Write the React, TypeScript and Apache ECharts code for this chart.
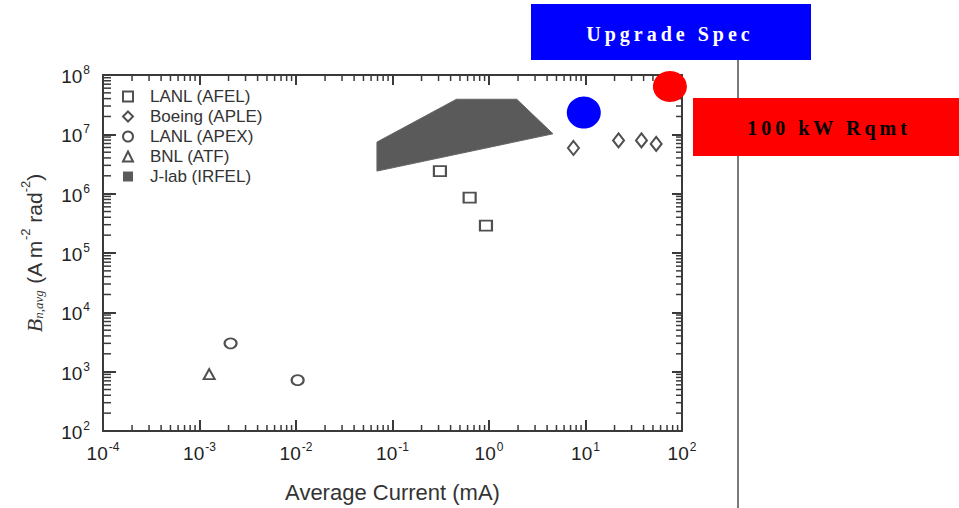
import React, { useEffect, useRef } from "react";
import * as echarts from "echarts";

// ---- axis ranges ----
const X_MIN = 1e-4;
const X_MAX = 1e2;
const Y_MIN = 1e2;
const Y_MAX = 1e8;

// ---- series data [average current (mA), brightness] ----
const seriesNames = ["LANL (AFEL)", "Boeing (APLE)", "LANL (APEX)", "BNL (ATF)", "J-lab (IRFEL)"];
const lanlAfel = [
  [0.31, 2.4e6],
  [0.63, 8.6e5],
  [0.93, 2.9e5],
];
const boeingAple = [
  [7.5, 5.9e6],
  [22, 7.9e6],
  [38, 7.9e6],
  [54, 6.9e6],
];
const lanlApex = [
  [2.1e-3, 3.0e3],
  [1.04e-2, 7.2e2],
];
const bnlAtf = [[1.26e-3, 9.1e2]];
const jlabIrfelRegion = [
  [0.069, 7.4e6],
  [0.46, 3.9e7],
  [1.94, 3.9e7],
  [4.6, 1.02e7],
  [0.069, 2.4e6],
];
const upgradeSpec = [[9.6, 2.33e7]];
const rqmt100kW = [[75, 6.4e7]];

// ---- annotation texts ----
const upgradeLabel = "Upgrade Spec";
const rqmtLabel = "100 kW Rqmt";
const xAxisTitle = "Average Current (mA)";

// minor log ticks (2..9 per decade)
const minorMultipliers = [2, 3, 4, 5, 6, 7, 8, 9];
const xDecades = [-4, -3, -2, -1, 0, 1];
const yDecades = [2, 3, 4, 5, 6, 7];
const xMinor = xDecades.flatMap((d) => minorMultipliers.map((m) => m * Math.pow(10, d)));
const yMinor = yDecades.flatMap((d) => minorMultipliers.map((m) => m * Math.pow(10, d)));

const AX = "#3a3a3a";
const MK = "#505050";
const SANS = "Liberation Sans, Arial, sans-serif";
const SERIF = "Liberation Serif, Times New Roman, serif";

const expLabel = (v: number) => {
  const e = Math.round(Math.log10(v));
  return `{b|10}{s|${e}}`;
};

const tickRich = {
  b: { fontSize: 19, fontFamily: SANS, color: "#222", lineHeight: 22, verticalAlign: "bottom" },
  s: { fontSize: 12, fontFamily: SANS, color: "#222", lineHeight: 22, verticalAlign: "top", padding: [0, 0, 0, 1] },
};

function axisBase(pos: string, min: number, max: number, tickLen: number) {
  return {
    type: "log",
    logBase: 10,
    position: pos,
    min,
    max,
    interval: 1,
    splitLine: { show: false },
    axisLine: { show: true, lineStyle: { color: AX, width: 2 } },
    axisTick: { show: true, inside: true, length: tickLen, lineStyle: { color: AX, width: 2 } },
  };
}

export default function App() {
  const ref = useRef<HTMLDivElement>(null);
  useEffect(() => {
    if (!ref.current) return;
    const chart = echarts.init(ref.current, null, { renderer: "svg" });

    const tickSeries = (which: "x" | "y") => ({
      name: which + "MinorTicks",
      type: "custom",
      data: which === "x" ? xMinor.map((v) => [v, 1e4]) : yMinor.map((v) => [1e-2, v]),
      renderItem: (_p: any, api: any) => {
        const st = { stroke: AX, lineWidth: 1.5 };
        if (which === "x") {
          const v = api.value(0);
          const b = api.coord([v, Y_MIN]);
          const t = api.coord([v, Y_MAX]);
          return {
            type: "group",
            children: [
              { type: "line", shape: { x1: b[0], y1: b[1], x2: b[0], y2: b[1] - 6 }, style: { ...st } },
              { type: "line", shape: { x1: t[0], y1: t[1], x2: t[0], y2: t[1] + 6 }, style: { ...st } },
            ],
          };
        }
        const v = api.value(1);
        const l = api.coord([X_MIN, v]);
        const r = api.coord([X_MAX, v]);
        return {
          type: "group",
          children: [
            { type: "line", shape: { x1: l[0], y1: l[1], x2: l[0] + 8, y2: l[1] }, style: { ...st } },
            { type: "line", shape: { x1: r[0], y1: r[1], x2: r[0] - 6, y2: r[1] }, style: { ...st } },
          ],
        };
      },
    });

    const option: any = {
      animation: false,
      grid: { left: 103, top: 75, right: 277, bottom: 70 },
      legend: {
        orient: "vertical",
        left: 122,
        top: 88,
        padding: 0,
        itemGap: 3,
        itemWidth: 10,
        itemHeight: 10,
        selectedMode: false,
        textStyle: { fontSize: 17, fontFamily: SANS, color: "#333", lineHeight: 17, padding: [0, 0, 0, 12] },
        data: [
          { name: seriesNames[0], icon: "emptyRect" },
          { name: seriesNames[1], icon: "emptyDiamond" },
          { name: seriesNames[2], icon: "emptyCircle" },
          { name: seriesNames[3], icon: "emptyTriangle" },
          { name: seriesNames[4], icon: "rect" },
        ],
      },
      xAxis: [
        {
          ...axisBase("bottom", X_MIN, X_MAX, 11),
          axisLabel: { show: true, margin: 10, formatter: expLabel, rich: tickRich },
          name: xAxisTitle,
          nameLocation: "middle",
          nameGap: 50,
          nameTextStyle: { fontSize: 22, fontFamily: SANS, color: "#333" },
        },
        { ...axisBase("top", X_MIN, X_MAX, 10), axisLabel: { show: false } },
      ],
      yAxis: [
        {
          ...axisBase("left", Y_MIN, Y_MAX, 13),
          axisLabel: { show: true, margin: 13, formatter: expLabel, rich: tickRich },
          name: "{i|B}{sub|n,avg}{t| (A m}{sup|-2}{t| rad}{sup|-2}{t|)}",
          nameLocation: "middle",
          nameRotate: 90,
          nameGap: 58,
          nameTextStyle: {
            rich: {
              i: { fontSize: 22, fontFamily: SERIF, fontStyle: "italic", color: "#333", lineHeight: 26, verticalAlign: "bottom" },
              sub: { fontSize: 13, fontFamily: SERIF, fontStyle: "italic", color: "#333", lineHeight: 26, verticalAlign: "bottom" },
              t: { fontSize: 21, fontFamily: SANS, color: "#333", lineHeight: 26, verticalAlign: "bottom" },
              sup: { fontSize: 13, fontFamily: SANS, color: "#333", lineHeight: 26, verticalAlign: "top" },
            },
          },
        },
        { ...axisBase("right", Y_MIN, Y_MAX, 10), axisLabel: { show: false } },
      ],
      series: [
        tickSeries("x"),
        tickSeries("y"),
        {
          name: seriesNames[4],
          type: "custom",
          itemStyle: { color: "#5a5a5a" },
          data: [jlabIrfelRegion[0]],
          renderItem: (_p: any, api: any) => ({
            type: "polygon",
            shape: { points: jlabIrfelRegion.map((p) => api.coord(p)) },
            style: { fill: "#5a5a5a", stroke: "#666", lineWidth: 1 },
          }),
        },
        {
          name: seriesNames[0],
          type: "scatter",
          symbol: "emptyRect",
          symbolSize: [12, 10],
          itemStyle: { color: MK, borderWidth: 1.8, opacity: 1 },
          data: lanlAfel,
        },
        {
          name: seriesNames[1],
          type: "scatter",
          symbol: "emptyDiamond",
          symbolSize: [11, 14],
          itemStyle: { color: MK, borderWidth: 1.8, opacity: 1 },
          data: boeingAple,
        },
        {
          name: seriesNames[2],
          type: "scatter",
          symbol: "emptyCircle",
          symbolSize: [12, 10],
          itemStyle: { color: MK, borderWidth: 1.8, opacity: 1 },
          data: lanlApex,
        },
        {
          name: seriesNames[3],
          type: "scatter",
          symbol: "emptyTriangle",
          symbolSize: [11, 10],
          itemStyle: { color: MK, borderWidth: 1.8, opacity: 1 },
          data: bnlAtf,
        },
        {
          name: "Upgrade Spec point",
          type: "scatter",
          symbol: "circle",
          symbolSize: [34, 32],
          itemStyle: { color: "#0000ff", opacity: 1 },
          z: 5,
          data: upgradeSpec,
        },
        {
          name: "100 kW point",
          type: "scatter",
          symbol: "circle",
          symbolSize: [34, 31],
          itemStyle: { color: "#ff0000", opacity: 1 },
          z: 5,
          data: rqmt100kW,
        },
      ],
      graphic: [
        {
          type: "line",
          shape: { x1: 738, y1: 60, x2: 738, y2: 508 },
          style: { stroke: "#7a7a7a", lineWidth: 2 },
          z: 10,
        },
        {
          type: "rect",
          shape: { x: 531, y: 4, width: 280, height: 56 },
          style: { fill: "#0000ff" },
          z: 11,
        },
        {
          type: "text",
          x: 670,
          y: 34,
          style: {
            text: upgradeLabel,
            fill: "#ffffff",
            font: `bold 20px ${SERIF}`,
            align: "center",
            verticalAlign: "middle",
          },
          z: 12,
        },
        {
          type: "rect",
          shape: { x: 693, y: 98, width: 266, height: 58 },
          style: { fill: "#ff0000" },
          z: 11,
        },
        {
          type: "text",
          x: 829,
          y: 128,
          style: {
            text: rqmtLabel,
            fill: "#000000",
            font: `bold 20px ${SERIF}`,
            align: "center",
            verticalAlign: "middle",
          },
          z: 12,
        },
      ],
    };

    chart.setOption(option);

    const root = ref.current;
    const spaceOut = () => {
      root.querySelectorAll("text").forEach((t: any) => {
        const s = t.textContent;
        if (s === upgradeLabel || s === rqmtLabel) t.setAttribute("letter-spacing", "4");
      });
    };
    spaceOut();
    const timer = setTimeout(spaceOut, 50);

    return () => {
      clearTimeout(timer);
      chart.dispose();
    };
  }, []);

  return <div ref={ref} style={{ position: "absolute", left: 0, top: 0, width: 959, height: 508 }} />;
}
